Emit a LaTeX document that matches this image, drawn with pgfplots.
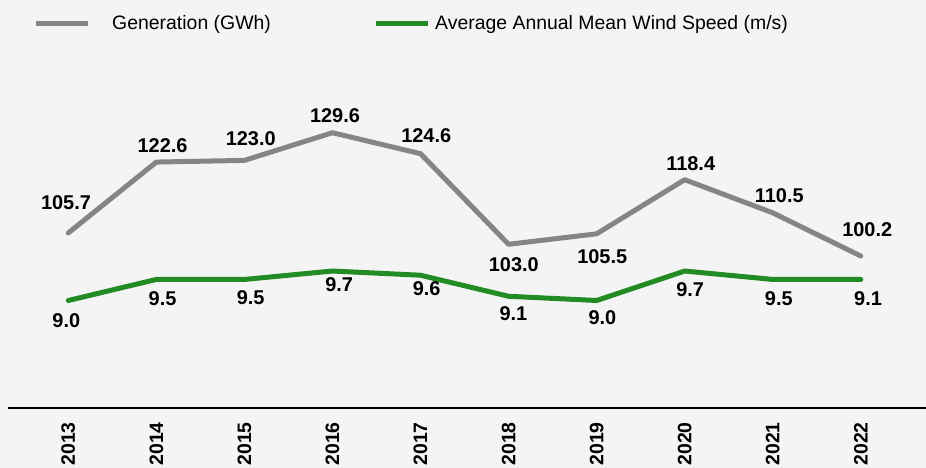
\documentclass[border=0pt]{standalone}
\usepackage{pgfplots}
\pgfplotsset{compat=1.18}
\usepackage{pgfplotstable}
\usepackage{fontspec}
\setmainfont{Liberation Sans}
\definecolor{bgcol}{HTML}{F4F4F4}
\definecolor{gengray}{HTML}{858585}
\definecolor{windgreen}{HTML}{238B23}

\pgfplotstableread{
x y lab dx dy
2013 105.7 105.7 -2.3 30
2014 122.6 122.6 6.2 16
2015 123.0 123.0 6.3 21.7
2016 129.6 129.6 2.5 16.7
2017 124.6 124.6 5.7 17.6
2018 103.0 103.0 5.2 -20.7
2019 105.5 105.5 5.6 -23.2
2020 118.4 118.4 6 16
2021 110.5 110.5 6.5 17
2022 100.2 100.2 6.4 26
}\gentable

\pgfplotstableread{
x y lab dx dy
2013 9.0 9.0 -2 -19.8
2014 9.5 9.5 6.2 -18.9
2015 9.5 9.5 6.3 -18.6
2016 9.7 9.7 6.7 -14
2017 9.6 9.6 6.2 -13.6
2018 9.1 9.1 4.8 -17.4
2019 9.0 9.0 5.8 -17
2020 9.7 9.7 5.5 -19
2021 9.5 9.5 6 -18.9
2022 9.5 9.1 7.2 -18.9
}\windtable

\begin{document}
\begin{tikzpicture}
\path[use as bounding box, fill=bgcol] (0,0) rectangle (926bp,468bp);

\pgfplotsset{
  common/.style={
    at={(8.3bp,60bp)}, anchor=south west, scale only axis,
    width=917.7bp, height=348bp,
    xmin=2012.319, xmax=2022.740, clip=false,
  },
  lbl/.style={
    nodes near coords, point meta=explicit symbolic,
    visualization depends on={\thisrow{dx}\as\dx},
    visualization depends on={\thisrow{dy}\as\dy},
    every node near coord/.style={anchor=center, xshift=\dx bp, yshift=\dy bp,
      inner sep=0pt, text=black, font=\fontsize{20}{24}\selectfont\bfseries},
  },
}

\begin{axis}[common,
  ymin=63.98, ymax=146.93,
  axis x line=bottom, axis y line=none,
  x axis line style={-, line width=2.8bp, black},
  xtick={2013,2014,2015,2016,2017,2018,2019,2020,2021,2022},
  xticklabels={2013,2014,2015,2016,2017,2018,2019,2020,2021,2022},
  major tick length=0pt, tick style={draw=none},
  xticklabel shift=14bp,
  xticklabel style={rotate=90, anchor=east, inner sep=0pt,
    font=\fontsize{19.5}{20}\selectfont\bfseries},
]
\addplot[gengray, line width=5bp, line cap=round, line join=round, mark=none, lbl]
  table[x=x, y=y, meta=lab] {\gentable};
\end{axis}

\begin{axis}[common, ymin=6.447, ymax=14.712, hide axis]
\addplot[windgreen, line width=5bp, line cap=round, line join=round, mark=none, lbl]
  table[x=x, y=y, meta=lab] {\windtable};
\end{axis}

% legend
\draw[gengray, line width=5bp] (36bp,444bp) -- (88bp,444bp);
\node[anchor=base west, inner sep=0pt, font=\fontsize{19.5}{23}\selectfont] at (112bp,438.7bp) {Generation (GWh)};
\draw[windgreen, line width=5bp] (376bp,444bp) -- (428bp,444bp);
\node[anchor=base west, inner sep=0pt, font=\fontsize{19.5}{23}\selectfont] at (435bp,438.7bp) {Average Annual Mean Wind Speed (m/s)};
\end{tikzpicture}
\end{document}
